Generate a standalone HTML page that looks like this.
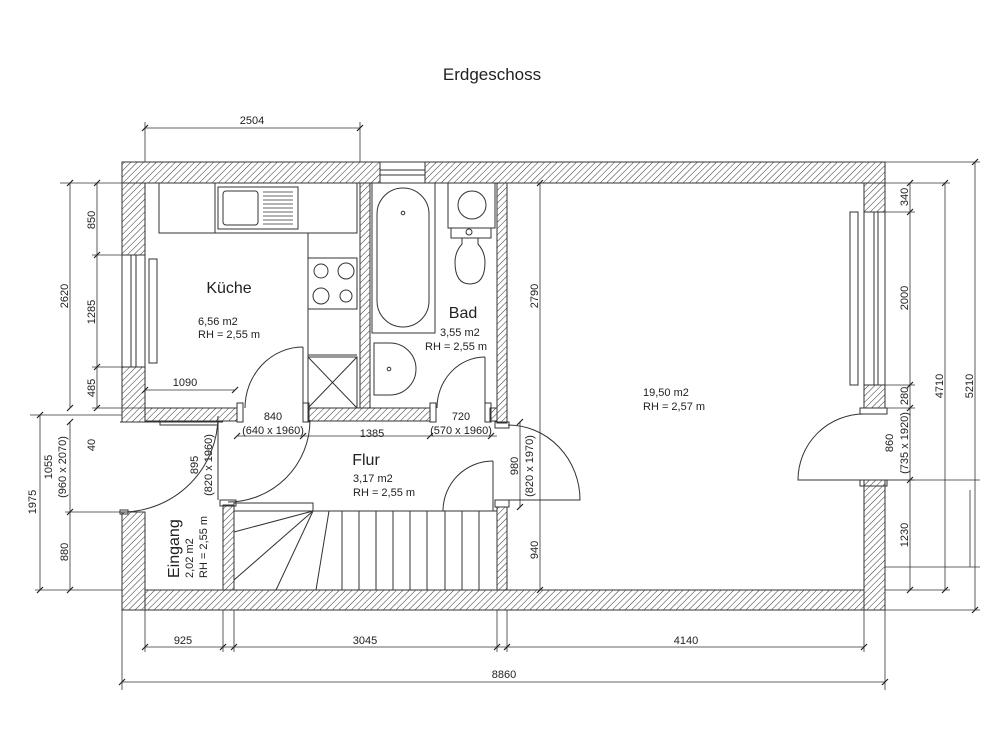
<!DOCTYPE html>
<html><head><meta charset="utf-8"><style>
html,body{margin:0;padding:0;background:#fff;}
svg{display:block;}
text{font-family:"Liberation Sans",sans-serif;fill:#222;}
</style></head><body>
<svg width="1000" height="750" viewBox="0 0 1000 750" xmlns="http://www.w3.org/2000/svg">
<defs>
<pattern id="h" patternUnits="userSpaceOnUse" width="4.5" height="4.5" patternTransform="rotate(45)">
<rect width="5" height="5" fill="#fff"/><line x1="0" y1="0" x2="0" y2="5" stroke="#333" stroke-width="1"/>
</pattern>
</defs>
<text x="492" y="80" font-size="17" text-anchor="middle">Erdgeschoss</text>

<g stroke="#333" stroke-width="1" fill="url(#h)">
<rect x="122" y="162" width="258" height="21"/>
<rect x="425" y="162" width="460" height="21"/>
<rect x="122" y="183" width="23" height="72"/>
<rect x="122" y="367" width="23" height="55"/>
<rect x="122" y="512" width="23" height="98"/>
<rect x="864" y="183" width="21" height="29"/>
<rect x="864" y="385" width="21" height="23"/>
<rect x="864" y="480" width="21" height="130"/>
<rect x="145" y="590" width="719" height="20"/>
<rect x="360" y="183" width="10" height="225"/>
<rect x="497" y="183" width="10" height="240"/>
<rect x="497" y="507" width="10" height="83"/>
<rect x="145" y="408" width="92" height="13"/>
<rect x="308" y="408" width="122" height="13"/>
<rect x="490" y="408" width="7" height="13"/>
<rect x="223" y="505" width="11" height="85"/>
</g>

<g stroke="#333" stroke-width="1" fill="none">
<rect x="380" y="162" width="45" height="21"/>
<line x1="380" y1="170" x2="425" y2="170"/><line x1="380" y1="175" x2="425" y2="175"/>
<rect x="122" y="255" width="23" height="112"/>
<line x1="131" y1="255" x2="131" y2="367"/><line x1="136" y1="255" x2="136" y2="367"/>
<rect x="149" y="259" width="8" height="104"/>
<rect x="864" y="212" width="21" height="173"/>
<line x1="874" y1="212" x2="874" y2="385"/><line x1="878" y1="212" x2="878" y2="385"/>
<rect x="850" y="212" width="8" height="173"/>
<path d="M864 414 A66 66 0 0 0 798 480 L864 480"/>
<rect x="860" y="408" width="27" height="6"/><rect x="860" y="480" width="27" height="6"/>
<rect x="159" y="183" width="198" height="50"/>
<line x1="215" y1="183" x2="215" y2="233"/>
<rect x="218" y="187" width="80" height="42"/>
<rect x="223" y="191" width="35" height="34" rx="3"/>
<g stroke-width="0.8"><line x1="263" y1="192" x2="293" y2="192"/><line x1="263" y1="196" x2="293" y2="196"/><line x1="263" y1="200" x2="293" y2="200"/><line x1="263" y1="204" x2="293" y2="204"/><line x1="263" y1="208" x2="293" y2="208"/><line x1="263" y1="212" x2="293" y2="212"/><line x1="263" y1="216" x2="293" y2="216"/><line x1="263" y1="220" x2="293" y2="220"/><line x1="263" y1="224" x2="293" y2="224"/></g>
<line x1="308" y1="233" x2="308" y2="408"/>
<rect x="308" y="258" width="49" height="51"/>
<circle cx="321" cy="271" r="7"/><circle cx="346" cy="271" r="8"/><circle cx="321" cy="296" r="8"/><circle cx="346" cy="296" r="6"/>
<line x1="308" y1="355" x2="357" y2="355"/>
<rect x="308" y="357" width="49" height="51"/>
<line x1="308" y1="357" x2="357" y2="408"/><line x1="357" y1="357" x2="308" y2="408"/>
<path d="M303 347 A58 61 0 0 0 245 408"/><line x1="303" y1="347" x2="303" y2="408"/>
<rect x="237" y="403" width="6" height="19"/><rect x="303" y="403" width="6" height="19"/>
<rect x="372" y="183" width="63" height="150"/>
<rect x="377" y="188" width="52" height="139" rx="26"/>
<circle cx="403" cy="213" r="1.8"/>
<line x1="435" y1="183" x2="435" y2="226"/>
<rect x="448" y="183" width="47" height="45"/>
<circle cx="472" cy="205" r="14"/>
<rect x="451" y="228" width="40" height="10"/>
<circle cx="469" cy="232" r="3"/>
<path d="M462 238 L462 244 Q455 252 455 262 Q455 284 470 284 Q485 284 485 262 Q485 252 478 244 L478 238"/>
<path d="M374 343 L390 343 A26 26 0 0 1 390 395 L374 395 Z"/>
<circle cx="389" cy="369" r="1.8"/>
<path d="M485 357 A48 51 0 0 0 437 408"/><line x1="485" y1="357" x2="485" y2="408"/>
<rect x="430" y="403" width="6" height="19"/><rect x="485" y="403" width="6" height="19"/>
<path d="M508 425 A72 75 0 0 1 580 500 L507 500"/>
<rect x="495" y="422" width="14" height="6"/><rect x="495" y="500" width="14" height="7"/>
<path d="M493 461 A50 50 0 0 0 443 511"/><line x1="493" y1="461" x2="493" y2="511"/>
<path d="M310 420 A82 82 0 0 1 228 502"/>
<rect x="220" y="500" width="16" height="6"/>
<line x1="218" y1="422" x2="218" y2="500"/>
<path d="M218 416 A96 96 0 0 1 122 512"/>
<rect x="120" y="510" width="8" height="4"/>
<rect x="160" y="422" width="58" height="3"/>
<line x1="120" y1="422" x2="223" y2="422"/>
<line x1="234" y1="511" x2="497" y2="511"/>
<rect x="234" y="503" width="79" height="8"/>
<line x1="313" y1="511" x2="234" y2="532"/>
<line x1="313" y1="511" x2="234" y2="580"/>
<line x1="313" y1="511" x2="276" y2="590"/>
<line x1="329" y1="511" x2="316" y2="590"/>
<line x1="342" y1="511" x2="342" y2="590"/><line x1="359" y1="511" x2="359" y2="590"/><line x1="376" y1="511" x2="376" y2="590"/><line x1="393" y1="511" x2="393" y2="590"/><line x1="410" y1="511" x2="410" y2="590"/><line x1="427" y1="511" x2="427" y2="590"/><line x1="445" y1="511" x2="445" y2="590"/><line x1="462" y1="511" x2="462" y2="590"/><line x1="479" y1="511" x2="479" y2="590"/>
</g>

<g stroke="#333" stroke-width="0.8" fill="none">
<line x1="145" y1="128" x2="360" y2="128"/><line x1="145" y1="122" x2="145" y2="162"/><line x1="360" y1="122" x2="360" y2="162"/>
<line x1="97" y1="183" x2="97" y2="408"/><line x1="92" y1="255" x2="122" y2="255"/><line x1="92" y1="367" x2="122" y2="367"/><line x1="92" y1="408" x2="145" y2="408"/><line x1="60" y1="183" x2="145" y2="183"/>
<line x1="70" y1="183" x2="70" y2="408"/>
<line x1="40" y1="415" x2="40" y2="590"/><line x1="35" y1="590" x2="122" y2="590"/>
<line x1="70" y1="422" x2="70" y2="590"/><line x1="65" y1="512" x2="122" y2="512"/><line x1="30" y1="415" x2="122" y2="415"/>
<line x1="145" y1="390" x2="235" y2="390"/>
<line x1="237" y1="436" x2="497" y2="436"/>
<line x1="540" y1="183" x2="540" y2="590"/>
<line x1="520" y1="422" x2="520" y2="507"/>
<line x1="910" y1="183" x2="910" y2="590"/><line x1="885" y1="212" x2="915" y2="212"/><line x1="885" y1="385" x2="915" y2="385"/><line x1="885" y1="408" x2="915" y2="408"/><line x1="885" y1="480" x2="915" y2="480"/>
<line x1="885" y1="183" x2="950" y2="183"/><line x1="885" y1="590" x2="950" y2="590"/>
<line x1="945" y1="183" x2="945" y2="590"/>
<line x1="885" y1="162" x2="980" y2="162"/><line x1="885" y1="610" x2="980" y2="610"/>
<line x1="975" y1="162" x2="975" y2="610"/>
<line x1="885" y1="480" x2="980" y2="480"/><line x1="885" y1="567" x2="980" y2="567"/><line x1="970" y1="490" x2="970" y2="567"/>
<line x1="145" y1="647" x2="864" y2="647"/>
<line x1="122" y1="610" x2="122" y2="690"/><line x1="145" y1="610" x2="145" y2="652"/><line x1="223" y1="610" x2="223" y2="652"/><line x1="234" y1="610" x2="234" y2="652"/><line x1="497" y1="610" x2="497" y2="652"/><line x1="507" y1="610" x2="507" y2="652"/><line x1="864" y1="610" x2="864" y2="652"/><line x1="885" y1="610" x2="885" y2="690"/>
<line x1="122" y1="682" x2="885" y2="682"/>
</g>
<!-- ticks -->
<g stroke="#222" stroke-width="1.2">
<path d="M142 131l6-6M357 131l6-6M142 650l6-6M220 650l6-6M231 650l6-6M494 650l6-6M504 650l6-6M861 650l6-6M119 685l6-6M882 685l6-6M234 439l6-6M300 439l6-6M427 439l6-6M488 439l6-6M142 393l6-6M232 393l6-6"/>
<path d="M907 186l6-6M907 215l6-6M907 388l6-6M907 411l6-6M907 483l6-6M907 593l6-6M942 186l6-6M942 593l6-6M972 165l6-6M972 613l6-6M537 186l6-6M537 593l6-6M517 425l6-6M517 510l6-6"/>
<path d="M94 186l6-6M94 258l6-6M94 370l6-6M94 411l6-6M67 186l6-6M67 411l6-6M37 418l6-6M37 593l6-6M67 425l6-6M67 515l6-6M67 593l6-6"/>
</g>

<g font-size="11">
<text x="252" y="124" text-anchor="middle">2504</text>
<text x="185" y="386" text-anchor="middle">1090</text>
<text x="273" y="420" text-anchor="middle">840</text>
<text x="273" y="434" text-anchor="middle">(640 x 1960)</text>
<text x="372" y="437" text-anchor="middle">1385</text>
<text x="461" y="420" text-anchor="middle">720</text>
<text x="461" y="434" text-anchor="middle">(570 x 1960)</text>
<text x="183" y="644" text-anchor="middle">925</text>
<text x="365" y="644" text-anchor="middle">3045</text>
<text x="686" y="644" text-anchor="middle">4140</text>
<text x="504" y="678" text-anchor="middle">8860</text>
<text transform="translate(95,220) rotate(-90)" text-anchor="middle">850</text>
<text transform="translate(95,312) rotate(-90)" text-anchor="middle">1285</text>
<text transform="translate(95,388) rotate(-90)" text-anchor="middle">485</text>
<text transform="translate(68,296) rotate(-90)" text-anchor="middle">2620</text>
<text transform="translate(95,445) rotate(-90)" text-anchor="middle">40</text>
<text transform="translate(52,467) rotate(-90)" text-anchor="middle">1055</text>
<text transform="translate(66,467) rotate(-90)" text-anchor="middle">(960 x 2070)</text>
<text transform="translate(68,552) rotate(-90)" text-anchor="middle">880</text>
<text transform="translate(36,502) rotate(-90)" text-anchor="middle">1975</text>
<text transform="translate(198,465) rotate(-90)" text-anchor="middle">895</text>
<text transform="translate(212,465) rotate(-90)" text-anchor="middle">(820 x 1960)</text>
<text transform="translate(538,296) rotate(-90)" text-anchor="middle">2790</text>
<text transform="translate(518,466) rotate(-90)" text-anchor="middle">980</text>
<text transform="translate(533,466) rotate(-90)" text-anchor="middle">(820 x 1970)</text>
<text transform="translate(538,550) rotate(-90)" text-anchor="middle">940</text>
<text transform="translate(908,197) rotate(-90)" text-anchor="middle">340</text>
<text transform="translate(908,298) rotate(-90)" text-anchor="middle">2000</text>
<text transform="translate(908,396) rotate(-90)" text-anchor="middle">280</text>
<text transform="translate(893,443) rotate(-90)" text-anchor="middle">860</text>
<text transform="translate(908,443) rotate(-90)" text-anchor="middle">(735 x 1920)</text>
<text transform="translate(908,535) rotate(-90)" text-anchor="middle">1230</text>
<text transform="translate(943,386) rotate(-90)" text-anchor="middle">4710</text>
<text transform="translate(973,386) rotate(-90)" text-anchor="middle">5210</text>
</g>

<text x="229" y="293" font-size="16" text-anchor="middle">Küche</text>
<text x="198" y="325" font-size="11">6,56 m2</text>
<text x="198" y="338" font-size="11">RH = 2,55 m</text>
<text x="463" y="318" font-size="16" text-anchor="middle">Bad</text>
<text x="440" y="336" font-size="11">3,55 m2</text>
<text x="425" y="350" font-size="11">RH = 2,55 m</text>
<text x="366" y="465" font-size="16" text-anchor="middle">Flur</text>
<text x="353" y="482" font-size="11">3,17 m2</text>
<text x="353" y="496" font-size="11">RH = 2,55 m</text>
<text x="643" y="396" font-size="11">19,50 m2</text>
<text x="643" y="410" font-size="11">RH = 2,57 m</text>
<text transform="translate(179,578) rotate(-90)" font-size="16">Eingang</text>
<text transform="translate(193,578) rotate(-90)" font-size="11">2,02 m2</text>
<text transform="translate(207,578) rotate(-90)" font-size="11">RH = 2,55 m</text>
</svg>
</body></html>
